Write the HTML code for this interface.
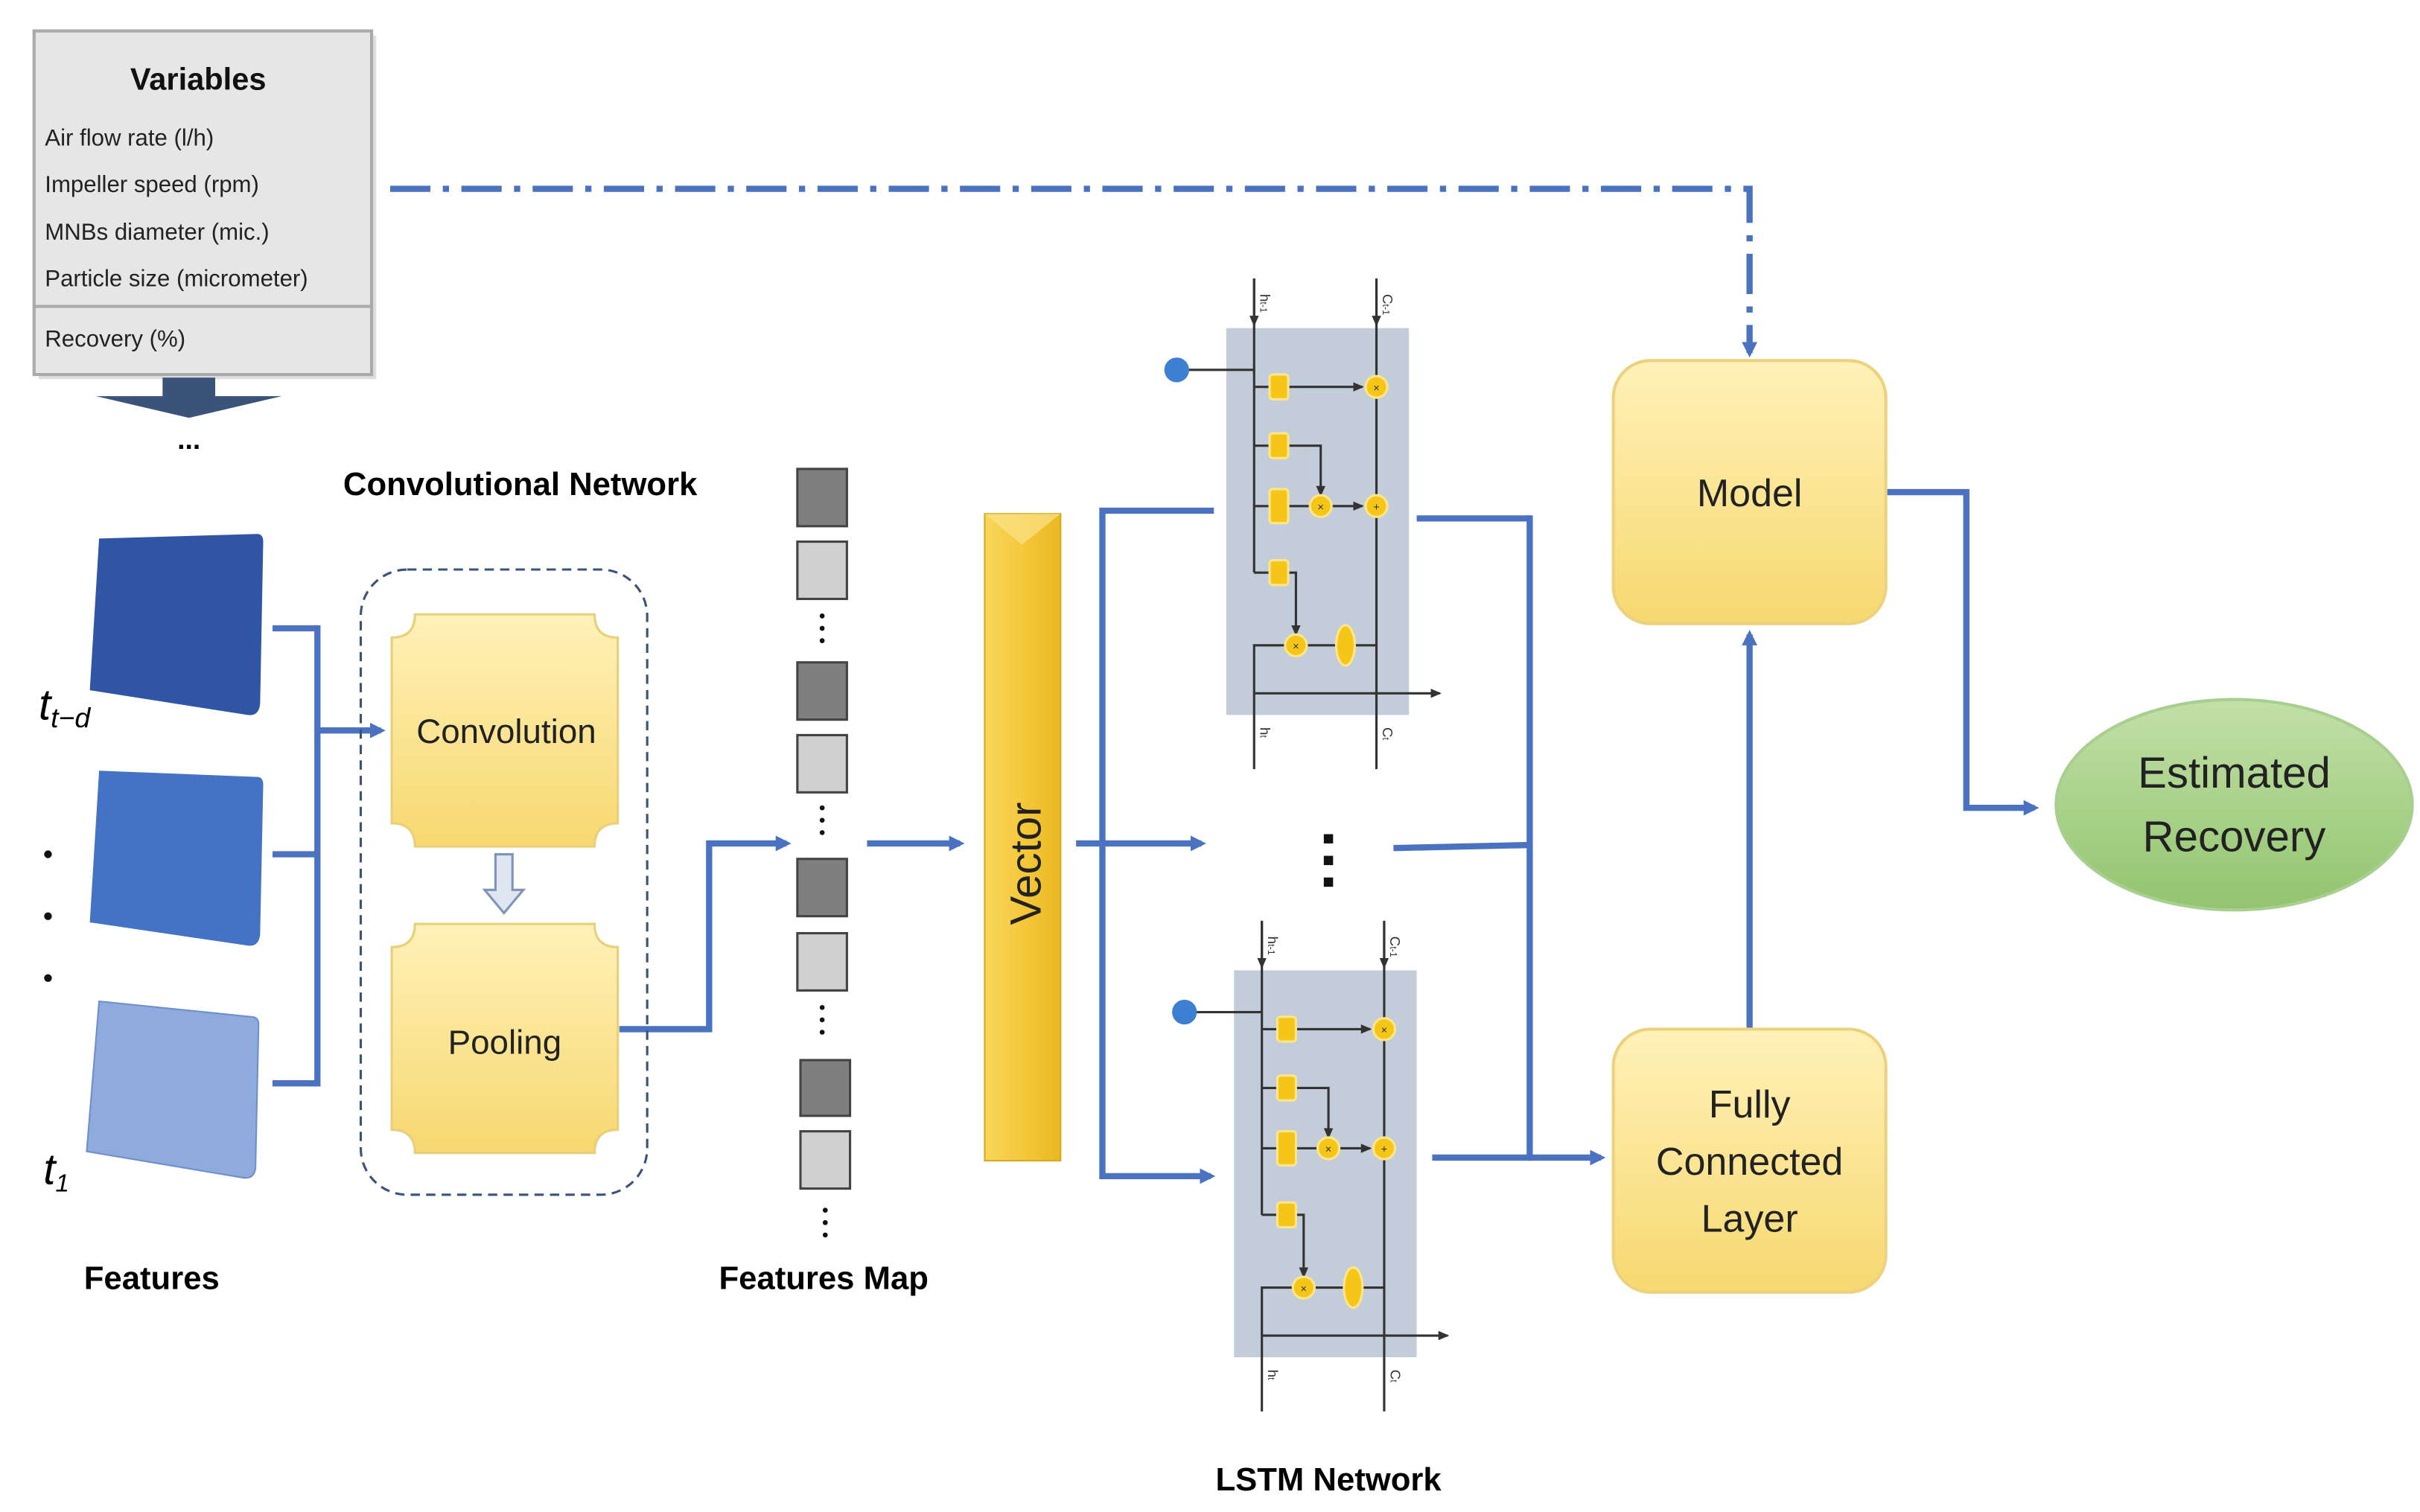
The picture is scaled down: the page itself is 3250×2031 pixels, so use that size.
<!DOCTYPE html>
<html><head><meta charset="utf-8"><style>
html,body{margin:0;padding:0;background:#fff;}
svg{display:block;}
text{font-family:"Liberation Sans",sans-serif;}
</style></head><body>
<svg width="3250" height="2031" viewBox="0 0 1563 977" preserveAspectRatio="none" xmlns="http://www.w3.org/2000/svg">
<defs>
<marker id="ab" markerWidth="10" markerHeight="10" refX="7" refY="5" orient="auto" markerUnits="userSpaceOnUse"><path d="M0,0 L10,5 L0,10 Z" fill="#4a72c0"/></marker>
<marker id="ak" markerWidth="8" markerHeight="8" refX="6" refY="4" orient="auto" markerUnits="userSpaceOnUse"><path d="M0,1 L7,4 L0,7 Z" fill="#333"/></marker>
<linearGradient id="yg" x1="0" y1="0" x2="0" y2="1"><stop offset="0" stop-color="#fff1b8"/><stop offset="1" stop-color="#f7d870"/></linearGradient>
<linearGradient id="vg" x1="0" y1="0" x2="1" y2="0"><stop offset="0" stop-color="#f8d65a"/><stop offset="0.5" stop-color="#f5c83c"/><stop offset="1" stop-color="#e8b820"/></linearGradient>
<linearGradient id="gg" x1="0" y1="0" x2="0" y2="1"><stop offset="0" stop-color="#c2e0a8"/><stop offset="1" stop-color="#92c46e"/></linearGradient>
<g id="cell">
<rect x="0" y="0" width="118" height="250" fill="#c3ccd9"/>
<g stroke="#333" stroke-width="1.5" fill="none">
<line x1="18" y1="-32" x2="18" y2="158"/>
<line x1="97" y1="-32" x2="97" y2="285"/>
<line x1="-25" y1="27" x2="18" y2="27"/>
<line x1="18" y1="38" x2="28" y2="38"/><line x1="40" y1="38" x2="88" y2="38" marker-end="url(#ak)"/>
<line x1="18" y1="76" x2="28" y2="76"/><polyline points="40,76 61,76 61,108" marker-end="url(#ak)"/>
<line x1="18" y1="115" x2="28" y2="115"/><line x1="40" y1="115" x2="55" y2="115"/><line x1="67" y1="115" x2="88" y2="115" marker-end="url(#ak)"/>
<line x1="18" y1="158" x2="28" y2="158"/><polyline points="40,158 45,158 45,198" marker-end="url(#ak)"/>
<polyline points="97,205 83,205"/><line x1="71" y1="205" x2="51" y2="205"/><polyline points="39,205 18,205 18,285"/>
<line x1="18" y1="236" x2="138" y2="236" marker-end="url(#ak)"/>
<line x1="18" y1="-32" x2="18" y2="-2" marker-end="url(#ak)"/>
<line x1="97" y1="-32" x2="97" y2="-2" marker-end="url(#ak)"/>
</g>
<circle cx="-32" cy="27" r="8" fill="#3d7fd0"/>
<g fill="#f5c518" stroke="#fde68a" stroke-width="1.5">
<rect x="28" y="30" width="12" height="16" rx="2"/>
<rect x="28" y="68" width="12" height="16" rx="2"/>
<rect x="28" y="104" width="12" height="22" rx="2"/>
<rect x="28" y="150" width="12" height="16" rx="2"/>
<circle cx="97" cy="38" r="7"/><circle cx="97" cy="115" r="7"/><circle cx="61" cy="115" r="7"/><circle cx="45" cy="205" r="7"/>
<ellipse cx="77" cy="205" rx="6" ry="13"/>
</g>
<g font-size="7" fill="#333" text-anchor="middle">
<text x="97" y="41">×</text><text x="97" y="118">+</text><text x="61" y="118">×</text><text x="45" y="208">×</text>
</g>
<text x="22" y="-22" font-size="9" fill="#333" transform="rotate(90 22 -22)">h<tspan font-size="6">t-1</tspan></text>
<text x="101" y="-22" font-size="9" fill="#333" transform="rotate(90 101 -22)">C<tspan font-size="6">t-1</tspan></text>
<text x="22" y="258" font-size="9" fill="#333" transform="rotate(90 22 258)">h<tspan font-size="6">t</tspan></text>
<text x="101" y="258" font-size="9" fill="#333" transform="rotate(90 101 258)">C<tspan font-size="6">t</tspan></text>
</g>
</defs>

<!-- Variables box -->
<rect x="25" y="23" width="218" height="222" fill="#bbb" opacity="0.5"/>
<rect x="22" y="20" width="218" height="222" fill="#e6e6e6" stroke="#aaa" stroke-width="2"/>
<line x1="22" y1="198" x2="240" y2="198" stroke="#aaa" stroke-width="2"/>
<text x="128" y="58" font-size="20" font-weight="bold" text-anchor="middle" fill="#111">Variables</text>
<g font-size="15" fill="#222">
<text x="29" y="94">Air flow rate (l/h)</text>
<text x="29" y="124">Impeller speed (rpm)</text>
<text x="29" y="155">MNBs diameter (mic.)</text>
<text x="29" y="185">Particle size (micrometer)</text>
<text x="29" y="224">Recovery (%)</text>
</g>
<polygon points="62,256 182,256 122,270" fill="#3b5379"/>
<rect x="105" y="244" width="34" height="13" fill="#3b5379"/>
<text x="122" y="290" font-size="18" font-weight="bold" text-anchor="middle">...</text>

<!-- dash-dot -->
<polyline points="252,122 1130,122 1130,228" fill="none" stroke="#4a72c0" stroke-width="4" stroke-dasharray="26,8,4,8" marker-end="url(#ab)"/>

<!-- Features -->
<path d="M64,348 L166,345 Q170,345 170,350 L168,455 Q167,463 160,462 L58,446 Z" fill="#2f55a4"/>
<path d="M64,498 L166,502 Q170,502 170,507 L168,604 Q167,612 160,611 L58,596 Z" fill="#4472c4"/>
<path d="M64,647 L162,657 Q167,657 167,662 L165,755 Q164,762 157,761 L56,744 Z" fill="#8faadc" stroke="#6f8fcc" stroke-width="1"/>
<text x="25" y="465" font-size="28" font-family="Liberation Serif" font-style="italic">t<tspan font-size="18" dy="5">t−d</tspan></text>
<text x="28" y="765" font-size="28" font-family="Liberation Serif" font-style="italic">t<tspan font-size="16" dy="5">1</tspan></text>
<g fill="#111"><circle cx="31" cy="552" r="2.5"/><circle cx="31" cy="592" r="2.5"/><circle cx="31" cy="632" r="2.5"/></g>
<text x="98" y="833" font-size="21" font-weight="bold" text-anchor="middle">Features</text>

<g stroke="#4a72c0" stroke-width="4" fill="none">
<line x1="176" y1="406" x2="205" y2="406"/><line x1="176" y1="552" x2="205" y2="552"/><line x1="176" y1="700" x2="205" y2="700"/>
<line x1="205" y1="404" x2="205" y2="702"/>
<line x1="205" y1="472" x2="246" y2="472" marker-end="url(#ab)"/>
<polyline points="400,665 458,665 458,545 508,545" marker-end="url(#ab)"/>
<line x1="560" y1="545" x2="620" y2="545" marker-end="url(#ab)"/>
<line x1="695" y1="545" x2="776" y2="545" marker-end="url(#ab)"/>
<polyline points="784,330 712,330 712,760 782,760" marker-end="url(#ab)"/>
<line x1="915" y1="335" x2="988" y2="335"/><line x1="900" y1="548" x2="988" y2="546"/><line x1="925" y1="748" x2="988" y2="748"/>
<line x1="988" y1="333" x2="988" y2="750"/>
<line x1="988" y1="748" x2="1034" y2="748" marker-end="url(#ab)"/>
<line x1="1130" y1="665" x2="1130" y2="410" marker-end="url(#ab)"/>
<polyline points="1218,318 1270,318 1270,522 1314,522" marker-end="url(#ab)"/>
</g>

<!-- Conv network -->
<rect x="233" y="368" width="185" height="404" rx="30" fill="none" stroke="#3b5379" stroke-width="1.5" stroke-dasharray="6,4"/>
<text x="336" y="320" font-size="21" font-weight="bold" text-anchor="middle">Convolutional Network</text>
<path d="M268,397 L384,397 Q384,412 399,412 L399,532 Q384,532 384,547 L268,547 Q268,532 253,532 L253,412 Q268,412 268,397 Z" fill="url(#yg)" stroke="#e8cf7a" stroke-width="1.5"/>
<path d="M268,597 L384,597 Q384,612 399,612 L399,730 Q384,730 384,745 L268,745 Q268,730 253,730 L253,612 Q268,612 268,597 Z" fill="url(#yg)" stroke="#e8cf7a" stroke-width="1.5"/>
<text x="327" y="480" font-size="22" text-anchor="middle" fill="#222">Convolution</text>
<text x="326" y="681" font-size="22" text-anchor="middle" fill="#222">Pooling</text>
<path d="M320,552 L331,552 L331,575 L338,575 L325.5,590 L313,575 L320,575 Z" fill="#dfe6f2" stroke="#7f93b5" stroke-width="1.5"/>

<!-- Feature map -->
<g stroke="#444" stroke-width="1.5">
<rect x="515" y="303" width="32" height="37" fill="#7f7f7f"/>
<rect x="515" y="350" width="32" height="37" fill="#d0d0d0"/>
<rect x="515" y="428" width="32" height="37" fill="#7f7f7f"/>
<rect x="515" y="475" width="32" height="37" fill="#d0d0d0"/>
<rect x="515" y="555" width="32" height="37" fill="#7f7f7f"/>
<rect x="515" y="603" width="32" height="37" fill="#d0d0d0"/>
<rect x="517" y="685" width="32" height="36" fill="#7f7f7f"/>
<rect x="517" y="731" width="32" height="37" fill="#d0d0d0"/>
</g>
<g fill="#111">
<circle cx="531" cy="398" r="1.6"/><circle cx="531" cy="406" r="1.6"/><circle cx="531" cy="414" r="1.6"/>
<circle cx="531" cy="522" r="1.6"/><circle cx="531" cy="530" r="1.6"/><circle cx="531" cy="538" r="1.6"/>
<circle cx="531" cy="651" r="1.6"/><circle cx="531" cy="659" r="1.6"/><circle cx="531" cy="667" r="1.6"/>
<circle cx="533" cy="782" r="1.6"/><circle cx="533" cy="790" r="1.6"/><circle cx="533" cy="798" r="1.6"/>
</g>
<text x="532" y="833" font-size="21" font-weight="bold" text-anchor="middle">Features Map</text>

<!-- Vector -->
<rect x="636" y="332" width="49" height="418" fill="url(#vg)" stroke="#d4a820" stroke-width="1"/>
<polygon points="636,332 685,332 660,352" fill="#fbe38a" opacity="0.7"/>
<text x="672" y="558" font-size="28" text-anchor="middle" fill="#222" transform="rotate(-90 672 558)">Vector</text>

<!-- LSTM cells -->
<use href="#cell" transform="translate(792,212)"/>
<use href="#cell" transform="translate(797,627)"/>
<g fill="#111"><rect x="855" y="539" width="6" height="6"/><rect x="855" y="553" width="6" height="6"/><rect x="855" y="567" width="6" height="6"/></g>
<text x="858" y="963" font-size="21" font-weight="bold" text-anchor="middle">LSTM Network</text>

<!-- Model & FC -->
<rect x="1042" y="233" width="176" height="170" rx="24" fill="url(#yg)" stroke="#ecd27e" stroke-width="2"/>
<rect x="1042" y="665" width="176" height="170" rx="24" fill="url(#yg)" stroke="#ecd27e" stroke-width="2"/>
<text x="1130" y="327" font-size="25" text-anchor="middle" fill="#222">Model</text>
<text x="1130" y="722" font-size="25" text-anchor="middle" fill="#222">Fully</text>
<text x="1130" y="759" font-size="25" text-anchor="middle" fill="#222">Connected</text>
<text x="1130" y="796" font-size="25" text-anchor="middle" fill="#222">Layer</text>

<!-- Estimated -->
<ellipse cx="1443" cy="520" rx="115" ry="68" fill="url(#gg)" stroke="#a9cf90" stroke-width="2"/>
<text x="1443" y="509" font-size="28" text-anchor="middle" fill="#222">Estimated</text>
<text x="1443" y="550" font-size="28" text-anchor="middle" fill="#222">Recovery</text>
</svg>
</body></html>
